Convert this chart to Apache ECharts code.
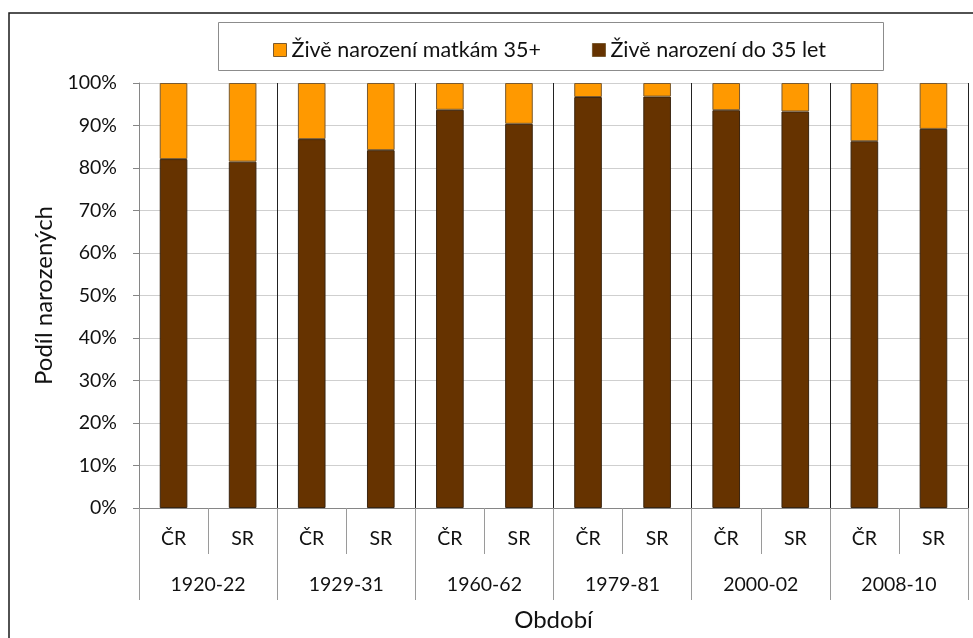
<!DOCTYPE html>
<html>
<head>
<meta charset="utf-8">
<script src="https://cdn.jsdelivr.net/npm/echarts@6/dist/echarts.min.js"></script>
<style>
html,body{margin:0;padding:0;background:#fff;}
#chart{width:973px;height:638px;}
</style>
</head>
<body>
<div id="chart"></div>
<script>
var countries = ['ČR','SR','ČR','SR','ČR','SR','ČR','SR','ČR','SR','ČR','SR'];
var periods = ['1920-22','1929-31','1960-62','1979-81','2000-02','2008-10'];
var seriesNames = ['Živě narození matkám 35+', 'Živě narození do 35 let'];
var under35 = [82.1, 81.5, 86.8, 84.2, 93.7, 90.4, 96.7, 96.8, 93.6, 93.3, 86.3, 89.2];
var over35 = [17.9, 18.5, 13.2, 15.8, 6.3, 9.6, 3.3, 3.2, 6.4, 6.7, 13.7, 10.8];
var yTicks = [0,10,20,30,40,50,60,70,80,90,100];

var FONT = 'Lato';
var chart = echarts.init(document.getElementById('chart'), null, {renderer:'canvas'});
chart.setOption({
  animation: false,
  backgroundColor: '#fff',
  textStyle: {fontFamily: FONT},
  graphic: [
    {type:'rect', shape:{x:9, y:13, width:990, height:660}, style:{fill:'none', stroke:'#1a1a1a', lineWidth:1.5}, z:-10},
    {type:'rect', shape:{x:218.5, y:22.5, width:665, height:48}, style:{fill:'#fff', stroke:'#8c8c8c', lineWidth:1}, z:-5}
  ],
  legend: {
    data: seriesNames,
    left: 268, top: 34,
    itemWidth: 13, itemHeight: 13, itemGap: 51,
    icon: 'rect',
    textStyle: {fontFamily: FONT, fontSize: 21.5, color: '#111'},
    itemStyle: {borderColor: '#7a5a30', borderWidth: 1}
  },
  grid: {left: 139, right: 5, top: 83, bottom: 130, containLabel: false},
  xAxis: [
    {
      type: 'category', data: countries, position: 'bottom',
      axisLine: {show: true, lineStyle: {color: '#868686', width: 1}},
      axisTick: {show: true, length: 46, interval: 0, lineStyle: {color: '#9a9a9a'}},
      axisLabel: {margin: 21, fontFamily: FONT, fontSize: 19.5, color: '#111', interval: 0},
      splitLine: {show: false}
    },
    {
      type: 'category', data: periods, position: 'bottom',
      axisLine: {show: false},
      axisTick: {show: true, length: 92, interval: 0, lineStyle: {color: '#9a9a9a'}},
      axisLabel: {margin: 67, fontFamily: FONT, fontSize: 19.5, color: '#111', interval: 0},
      splitLine: {show: true, interval: 0, lineStyle: {color: '#222', width: 1}},
      name: 'Období', nameLocation: 'middle', nameGap: 100,
      nameTextStyle: {fontFamily: FONT, fontSize: 24, color: '#111'}
    }
  ],
  yAxis: {
    type: 'value', min: 0, max: 100, interval: 10,
    axisLine: {show: true, lineStyle: {color: '#868686'}},
    axisTick: {show: true, inside: false, length: 6, lineStyle: {color: '#868686'}},
    axisLabel: {formatter: '{value}%', margin: 22, fontFamily: FONT, fontSize: 19.5, color: '#111'},
    splitLine: {show: true, lineStyle: {color: '#cfcfcf', width: 1}},
    name: 'Podíl narozených', nameLocation: 'middle', nameGap: 82,
    nameTextStyle: {fontFamily: FONT, fontSize: 24, color: '#111'}
  },
  series: [
    {
      name: seriesNames[1], type: 'bar', stack: 'total', xAxisIndex: 0,
      data: under35, barWidth: '40%',
      itemStyle: {color: '#663300', borderColor: '#3a2510', borderWidth: 1}
    },
    {
      name: seriesNames[0], type: 'bar', stack: 'total', xAxisIndex: 0,
      data: over35, barWidth: '40%',
      itemStyle: {color: '#FF9900', borderColor: '#7a5a30', borderWidth: 1}
    }
  ]
});
</script>
</body>
</html>
